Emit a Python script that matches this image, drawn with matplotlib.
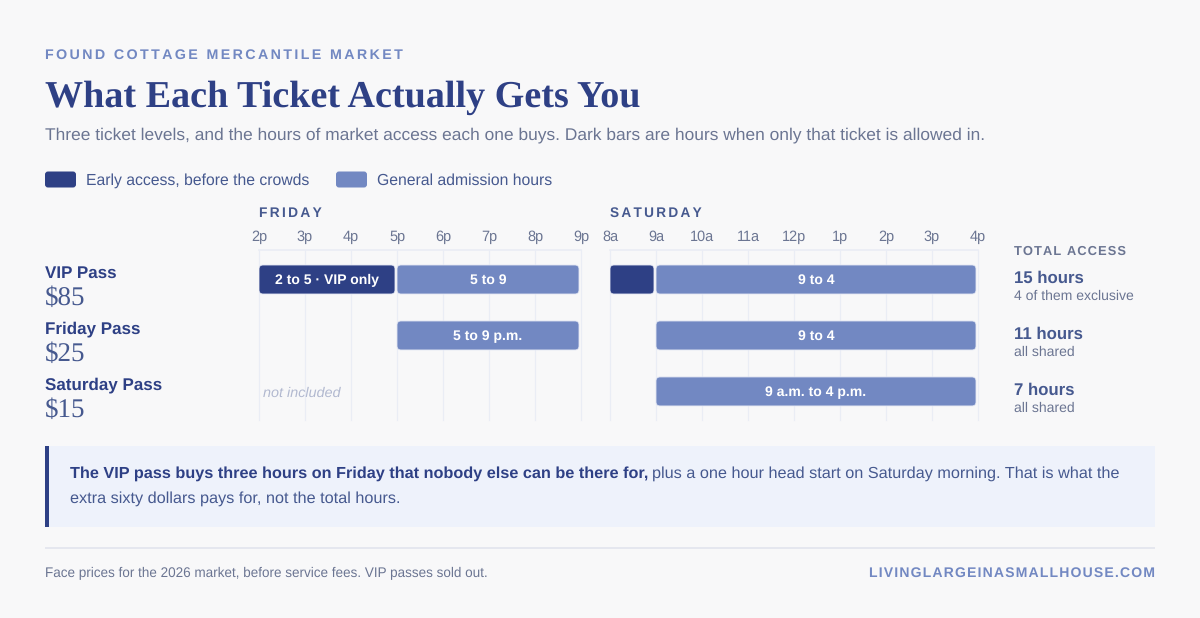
import matplotlib
matplotlib.use("Agg")
import matplotlib.pyplot as plt
from matplotlib.patches import FancyBboxPatch, Rectangle

plt.rcParams["text.hinting"] = "no_hinting"
plt.rcParams["text.hinting_factor"] = 8
plt.rcParams["text.kerning_factor"] = 0

W, H = 1200, 618
BG = "#f8f8f9"
DARK = "#2e4085"
MID = "#7288c2"
SLATE = "#6b7592"
BODY = "#46598f"
GRID = "#eaedf5"
SANS = "Liberation Sans"
SERIF = "Liberation Serif"

# data
passes = ["VIP Pass", "Friday Pass", "Saturday Pass"]
prices = ["$85", "$25", "$15"]
totals = ["15 hours", "11 hours", "7 hours"]
total_notes = ["4 of them exclusive", "all shared", "all shared"]
fri_hours = [14, 15, 16, 17, 18, 19, 20, 21]
fri_labels = ["2p", "3p", "4p", "5p", "6p", "7p", "8p", "9p"]
sat_hours = [8, 9, 10, 11, 12, 13, 14, 15, 16]
sat_labels = ["8a", "9a", "10a", "11a", "12p", "1p", "2p", "3p", "4p"]
# (row, start, end, kind, label)
fri_bars = [
    (0, 14, 17, "early", "2 to 5 · VIP only"),
    (0, 17, 21, "general", "5 to 9"),
    (1, 17, 21, "general", "5 to 9 p.m."),
]
sat_bars = [
    (0, 8, 9, "early", ""),
    (0, 9, 16, "general", "9 to 4"),
    (1, 9, 16, "general", "9 to 4"),
    (2, 9, 16, "general", "9 a.m. to 4 p.m."),
]

fig = plt.figure(figsize=(W / 100, H / 100), dpi=100, facecolor=BG)
renderer = fig.canvas.get_renderer()


def put(x, y, s, px, color, weight="normal", family=SANS, ha="left", style="normal"):
    """Text placed by pixel position, y is the baseline."""
    return fig.text(x / W, 1 - y / H, s, fontsize=px * 0.72, color=color, weight=weight,
                    family=family, ha=ha, va="baseline", style=style)


def text_width(t):
    return t.get_window_extent(renderer).width


def spaced(x, y, s, width, color, ha="left", hairs=1):
    """matplotlib has no letter spacing, so hair spaces go between the caps and the size fits the width."""
    s = ("\u200a" * hairs).join(s)
    probe = put(0, 0, s, 14, color, "bold")
    px = 14 * width / text_width(probe)
    probe.remove()
    return put(x, y, s, px, color, "bold", ha=ha)


pix = matplotlib.transforms.Affine2D().scale(1 / W, 1 / H) + fig.transFigure


def fig_box(x, y, w, h, color, radius=0):
    if radius:
        fig.add_artist(FancyBboxPatch((x, H - y - h), w, h, boxstyle=f"round,pad=0,rounding_size={radius}",
                                      transform=pix, fc=color, ec="none"))
    else:
        fig.add_artist(Rectangle((x, H - y - h), w, h, transform=pix, fc=color, ec="none"))


# header
spaced(45, 59, "FOUND COTTAGE MERCANTILE MARKET", 359, MID, hairs=2)
put(45, 106.5, "What Each Ticket Actually Gets You", 38.07, DARK, "bold", SERIF)
put(45, 139.5, "Three ticket levels, and the hours of market access each one buys. "
               "Dark bars are hours when only that ticket is allowed in.", 17.37, SLATE)

# legend
fig_box(45, 171.5, 31, 16, DARK, 3)
put(86, 185, "Early access, before the crowds", 15.72, BODY)
fig_box(336, 171.5, 31, 16, MID, 3)
put(377, 185, "General admission hours", 15.72, BODY)


def day_axes(x0, x1, hours, labels, bars, title, title_width):
    ax = fig.add_axes([x0 / W, 1 - 420 / H, (x1 - x0) / W, 170 / H])
    ax.set_xlim(hours[0], hours[-1])
    ax.set_ylim(2.51, -0.527)
    ax.patch.set_visible(False)
    for side in ax.spines.values():
        side.set_visible(False)
    ax.spines["top"].set_visible(True)
    ax.spines["top"].set_color(GRID)
    ax.spines["top"].set_linewidth(1.2)
    ax.set_yticks([])
    ax.set_xticks(hours)
    ax.set_xticklabels(labels, fontsize=14.5 * 0.72, color=SLATE, family=SANS)
    ax.xaxis.tick_top()
    ax.tick_params(axis="x", length=0, pad=4)
    ax.grid(axis="x", color=GRID, linewidth=0.9, clip_on=False)
    ax.set_axisbelow(True)
    px_x = (x1 - x0) / (hours[-1] - hours[0])
    gap = 2 / px_x
    for row, start, end, kind, label in bars:
        ax.add_patch(FancyBboxPatch((start, row - 0.259), end - start - gap, 0.518,
                                    boxstyle=f"round,pad=0,rounding_size={4 / px_x}",
                                    mutation_aspect=px_x / 56,
                                    fc=DARK if kind == "early" else MID, ec="#e3e7f3", lw=0.6, zorder=3))
        if label:
            ax.text((start + end - gap) / 2, row - 0.015, label, ha="center", va="center_baseline", color="white",
                    fontsize=14 * 0.72, weight="bold", family=SANS, zorder=4)
    spaced(x0, 217, title, title_width, BODY, hairs=2)
    return ax


ax_fri = day_axes(259, 581, fri_hours, fri_labels, fri_bars, "FRIDAY", 63)
ax_sat = day_axes(610, 978, sat_hours, sat_labels, sat_bars, "SATURDAY", 92)
ax_fri.text(14.09, 2.01, "not included", ha="left", va="center_baseline", color="#b2b9d0",
            fontsize=14.4 * 0.72, style="italic", family=SANS)

# row labels and totals
spaced(1014, 255, "TOTAL ACCESS", 112, SLATE)
for i, name in enumerate(passes):
    base = 56 * i
    put(45, 277.6 + base, name, 17, DARK, "bold")
    put(45, 305 + base, prices[i], 27, BODY, "normal", SERIF)
    put(1014, 283 + base, totals[i], 16.7, BODY, "bold")
    put(1014, 300 + base, total_notes[i], 14, SLATE)

# callout
fig_box(45, 446, 1110, 81, "#eef2fb")
fig_box(45, 446, 4, 81, DARK)
lead = put(69.6, 477.5, "The VIP pass buys three hours on Friday that nobody else can be there for,", 16.25, DARK, "bold")
put(69.6 + text_width(lead) + 4.3, 477.5, "plus a one hour head start on Saturday morning. That is what the", 16.25, BODY)
put(69.6, 502.5, "extra sixty dollars pays for, not the total hours.", 16.25, BODY)

# footer
fig_box(45, 547, 1110, 1.5, "#e5e7ef")
put(45, 577, "Face prices for the 2026 market, before service fees. VIP passes sold out.", 13.5, SLATE)
spaced(1155, 577, "LIVINGLARGEINASMALLHOUSE.COM", 286, MID, ha="right")

fig.savefig("out.png", dpi=100, facecolor=BG)
